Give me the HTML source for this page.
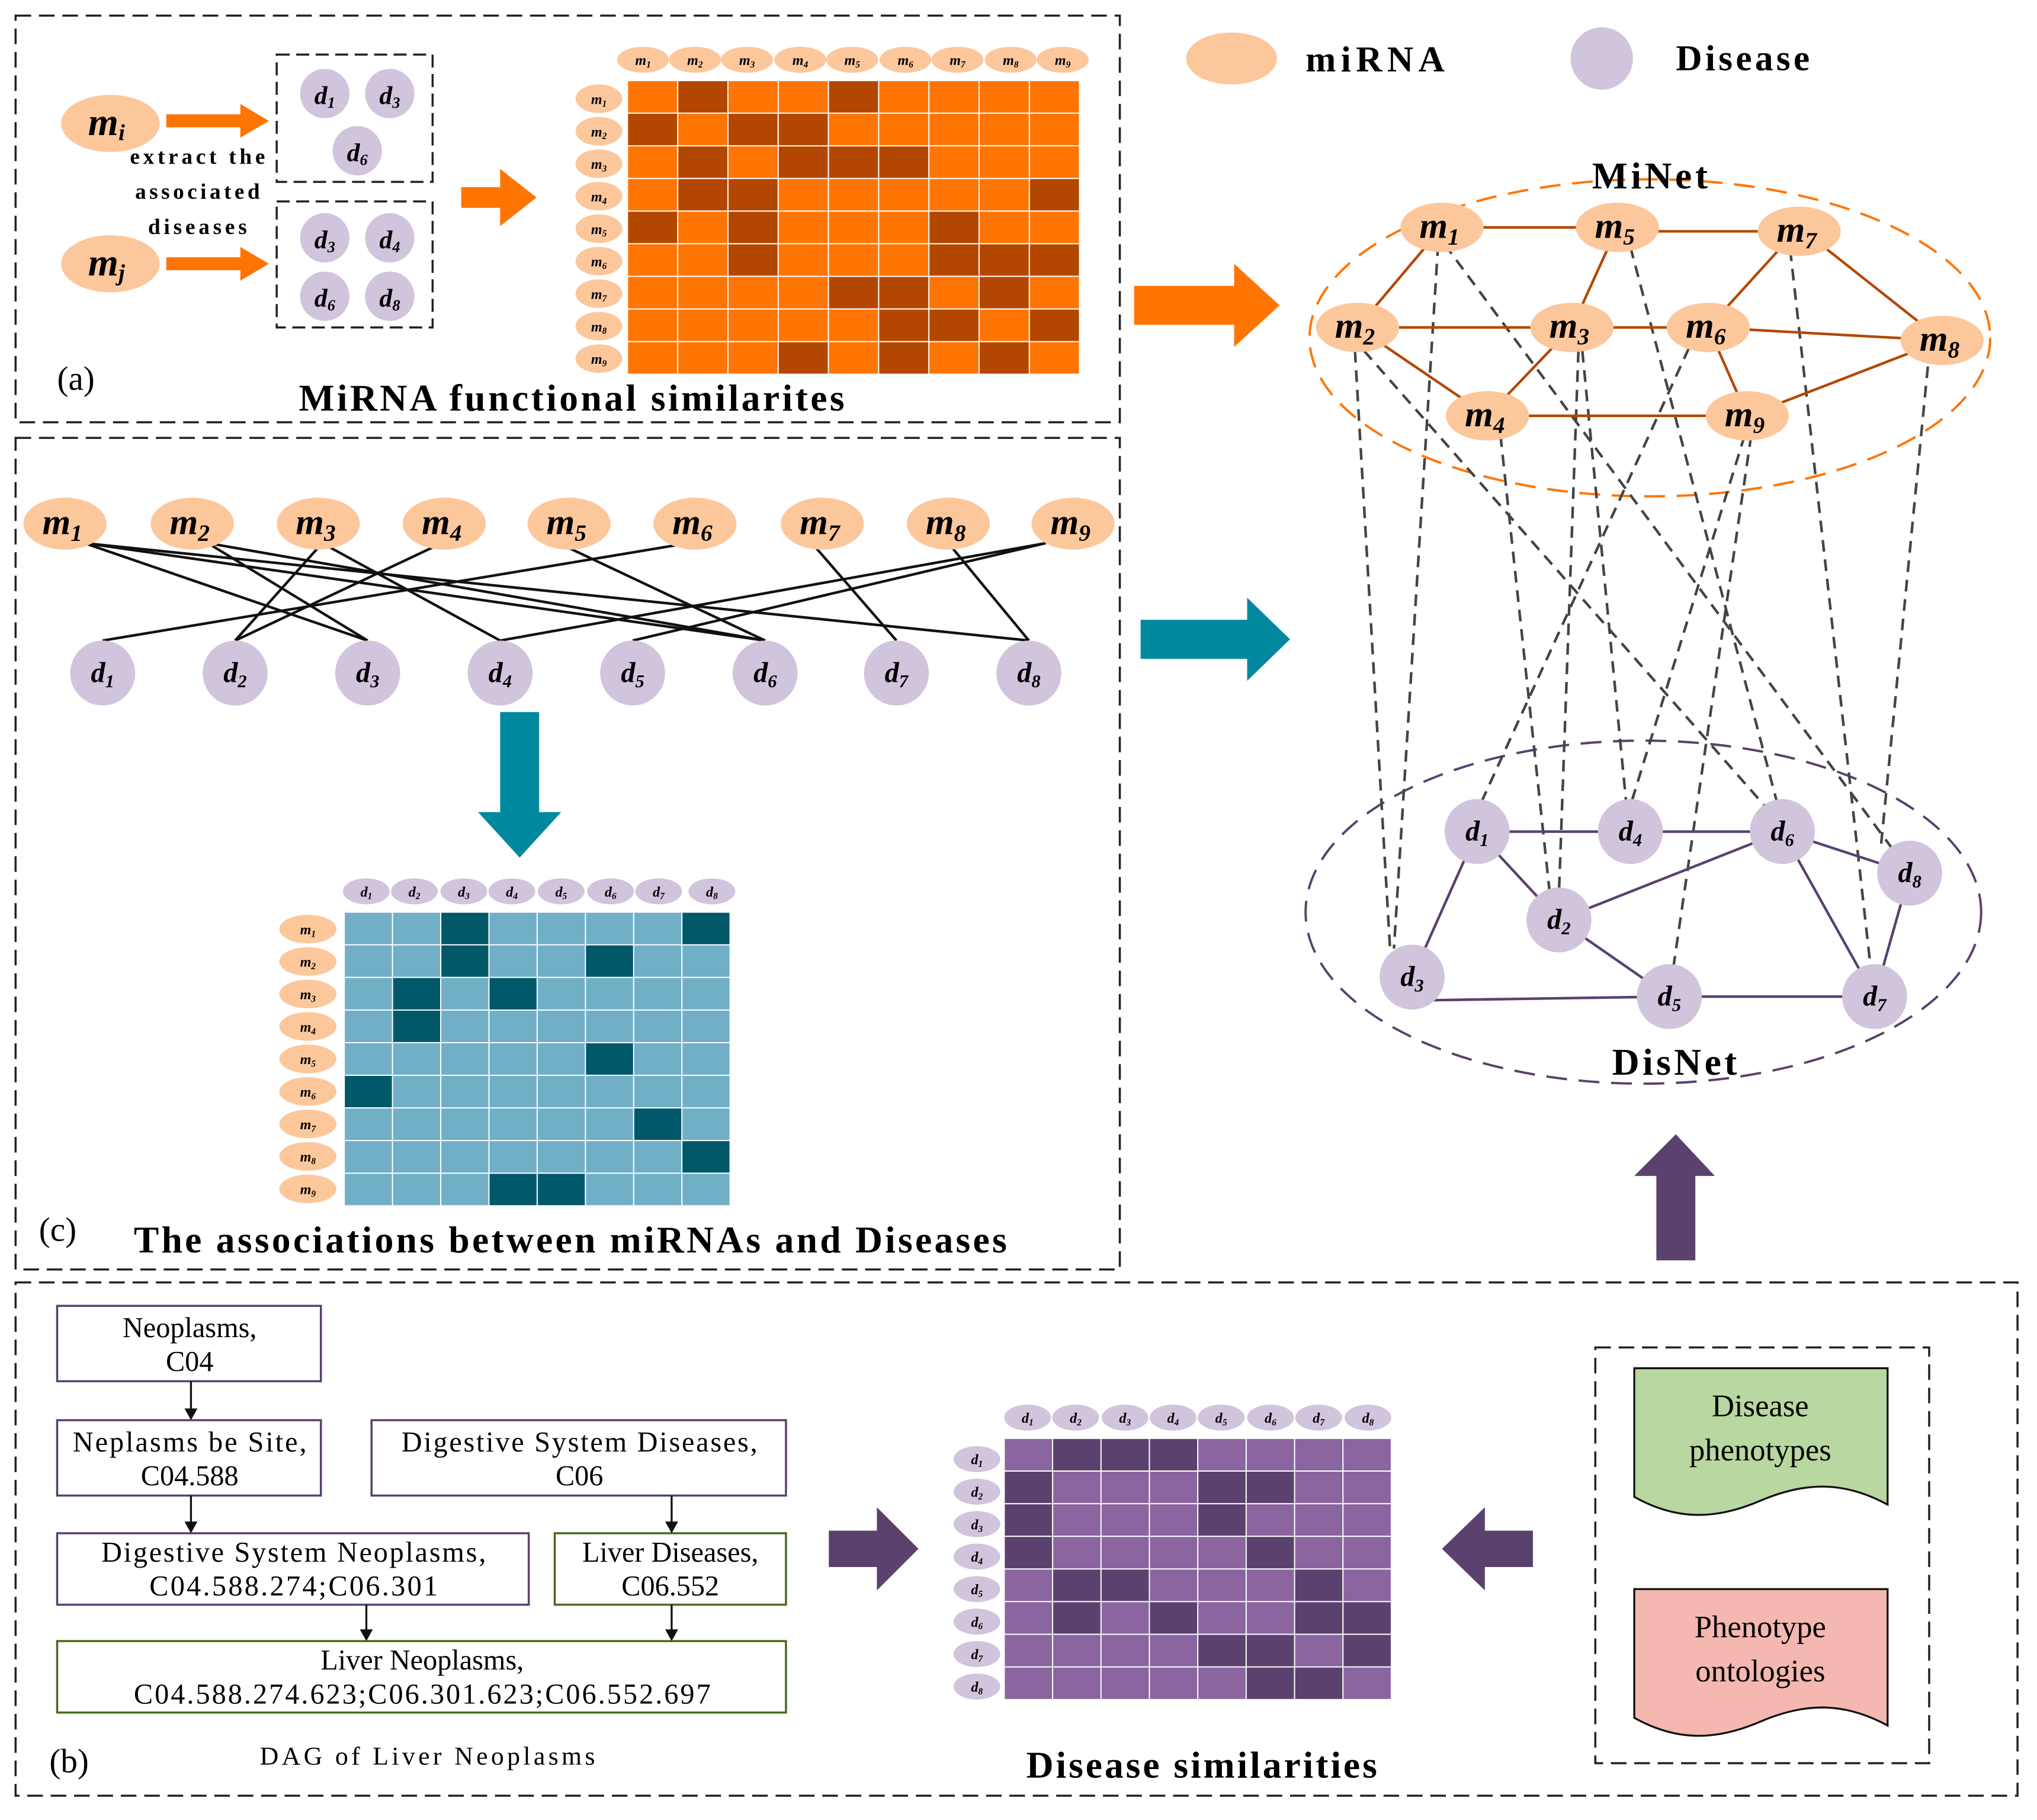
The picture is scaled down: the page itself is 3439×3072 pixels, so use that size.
<!DOCTYPE html>
<html><head><meta charset="utf-8"><style>
html,body{margin:0;padding:0;background:#fff}
svg{display:block}
text{font-family:"Liberation Serif",serif}
.l{font-weight:bold;font-style:italic;text-anchor:middle}
.t{text-anchor:middle}
</style></head><body>
<svg width="3439" height="3072" viewBox="0 0 1568 1400.7" preserveAspectRatio="none" xmlns="http://www.w3.org/2000/svg">
<rect width="1568" height="1401" fill="#fff"/>
<g fill="none" stroke="#222" stroke-width="1.6" stroke-dasharray="12,6">
<rect x="12" y="12" width="850" height="313"/>
<rect x="12" y="337" width="850" height="640"/>
<rect x="12" y="987" width="1541" height="395"/>
<rect x="1228" y="1037" width="257" height="320"/>
</g>

<!-- ===== Panel a ===== -->
<g fill="#FDC79C"><ellipse cx="85" cy="95" rx="38" ry="22"/><ellipse cx="85" cy="203" rx="38" ry="22"/></g>
<text class="l" x="82" y="104" font-size="30">m<tspan font-size="18" dy="4">i</tspan></text>
<text class="l" x="82" y="212" font-size="30">m<tspan font-size="18" dy="4">j</tspan></text>
<g fill="#FF7504">
<polygon points="128,88 185,88 185,80 207,93 185,106 185,98 128,98"/>
<polygon points="128,198 185,198 185,190 207,203 185,216 185,208 128,208"/>
<polygon points="355,144 385,144 385,130 413,152 385,174 385,160 355,160"/>
</g>
<g font-size="17" font-weight="bold" class="t"><text x="152" y="126" textLength="104" lengthAdjust="spacing">extract the</text><text x="152" y="153" textLength="96" lengthAdjust="spacing">associated</text><text x="152" y="180" textLength="76" lengthAdjust="spacing">diseases</text></g>
<g fill="none" stroke="#222" stroke-width="1.6" stroke-dasharray="10,5"><rect x="213" y="42" width="120" height="98"/><rect x="213" y="155" width="120" height="97"/></g>
<g fill="#D1C4DD"><circle cx="250" cy="72" r="19"/><circle cx="300" cy="72" r="19"/><circle cx="275" cy="116" r="19"/>
<circle cx="250" cy="183" r="19"/><circle cx="300" cy="183" r="19"/><circle cx="250" cy="228" r="19"/><circle cx="300" cy="228" r="19"/></g>
<g class="l" font-size="20"><text x="250" y="80">d<tspan font-size="12" dy="3">1</tspan></text><text x="300" y="80">d<tspan font-size="12" dy="3">3</tspan></text><text x="275" y="124">d<tspan font-size="12" dy="3">6</tspan></text>
<text x="250" y="191">d<tspan font-size="12" dy="3">3</tspan></text><text x="300" y="191">d<tspan font-size="12" dy="3">4</tspan></text><text x="250" y="236">d<tspan font-size="12" dy="3">6</tspan></text><text x="300" y="236">d<tspan font-size="12" dy="3">8</tspan></text></g>

<g transform="translate(483,62) scale(38.667,25.111)">
<rect width="9" height="9" fill="#FF7504"/>
<g fill="#B34700">
<rect x="1" y="0" width="1" height="1"/><rect x="4" y="0" width="1" height="1"/>
<rect x="0" y="1" width="1" height="1"/><rect x="2" y="1" width="2" height="1"/>
<rect x="1" y="2" width="1" height="1"/><rect x="3" y="2" width="3" height="1"/>
<rect x="1" y="3" width="2" height="1"/><rect x="8" y="3" width="1" height="1"/>
<rect x="0" y="4" width="1" height="1"/><rect x="2" y="4" width="1" height="1"/><rect x="6" y="4" width="1" height="1"/>
<rect x="2" y="5" width="1" height="1"/><rect x="6" y="5" width="3" height="1"/>
<rect x="4" y="6" width="2" height="1"/><rect x="7" y="6" width="1" height="1"/>
<rect x="5" y="7" width="2" height="1"/><rect x="8" y="7" width="1" height="1"/>
<rect x="3" y="8" width="1" height="1"/><rect x="5" y="8" width="1" height="1"/><rect x="7" y="8" width="1" height="1"/>
</g>
<path d="M0 0V9M1 0V9M2 0V9M3 0V9M4 0V9M5 0V9M6 0V9M7 0V9M8 0V9M9 0V9M0 0H9M0 1H9M0 2H9M0 3H9M0 4H9M0 5H9M0 6H9M0 7H9M0 8H9M0 9H9" stroke="#fff" stroke-width="2" vector-effect="non-scaling-stroke"/>
</g>
<g fill="#FDC79C">
<ellipse cx="495" cy="46" rx="20" ry="10"/><ellipse cx="535" cy="46" rx="20" ry="10"/><ellipse cx="575" cy="46" rx="20" ry="10"/><ellipse cx="616" cy="46" rx="20" ry="10"/><ellipse cx="656" cy="46" rx="20" ry="10"/><ellipse cx="697" cy="46" rx="20" ry="10"/><ellipse cx="737" cy="46" rx="20" ry="10"/><ellipse cx="778" cy="46" rx="20" ry="10"/><ellipse cx="818" cy="46" rx="20" ry="10"/>
<ellipse cx="461" cy="76" rx="18" ry="11"/><ellipse cx="461" cy="101" rx="18" ry="11"/><ellipse cx="461" cy="126" rx="18" ry="11"/><ellipse cx="461" cy="151" rx="18" ry="11"/><ellipse cx="461" cy="176" rx="18" ry="11"/><ellipse cx="461" cy="201" rx="18" ry="11"/><ellipse cx="461" cy="226" rx="18" ry="11"/><ellipse cx="461" cy="251" rx="18" ry="11"/><ellipse cx="461" cy="276" rx="18" ry="11"/>
</g>
<g class="l" font-size="11" font-weight="normal">
<text x="495" y="50">m<tspan font-size="7" dy="2">1</tspan></text><text x="535" y="50">m<tspan font-size="7" dy="2">2</tspan></text><text x="575" y="50">m<tspan font-size="7" dy="2">3</tspan></text><text x="616" y="50">m<tspan font-size="7" dy="2">4</tspan></text><text x="656" y="50">m<tspan font-size="7" dy="2">5</tspan></text><text x="697" y="50">m<tspan font-size="7" dy="2">6</tspan></text><text x="737" y="50">m<tspan font-size="7" dy="2">7</tspan></text><text x="778" y="50">m<tspan font-size="7" dy="2">8</tspan></text><text x="818" y="50">m<tspan font-size="7" dy="2">9</tspan></text>
<text x="461" y="80">m<tspan font-size="7" dy="2">1</tspan></text><text x="461" y="105">m<tspan font-size="7" dy="2">2</tspan></text><text x="461" y="130">m<tspan font-size="7" dy="2">3</tspan></text><text x="461" y="155">m<tspan font-size="7" dy="2">4</tspan></text><text x="461" y="180">m<tspan font-size="7" dy="2">5</tspan></text><text x="461" y="205">m<tspan font-size="7" dy="2">6</tspan></text><text x="461" y="230">m<tspan font-size="7" dy="2">7</tspan></text><text x="461" y="255">m<tspan font-size="7" dy="2">8</tspan></text><text x="461" y="280">m<tspan font-size="7" dy="2">9</tspan></text>
</g>
<text x="44" y="300" font-size="26">(a)</text>
<text class="t" x="440" y="316" font-size="29" font-weight="bold" textLength="420" lengthAdjust="spacing">MiRNA functional similarites</text>

<!-- ===== Panel c ===== -->
<g stroke="#111" stroke-width="2">
<line x1="65" y1="418" x2="283" y2="493"/><line x1="65" y1="418" x2="792" y2="493"/>
<line x1="160" y1="418" x2="283" y2="493"/><line x1="160" y1="418" x2="589" y2="493"/>
<line x1="248" y1="418" x2="181" y2="493"/><line x1="248" y1="418" x2="385" y2="493"/>
<line x1="340" y1="418" x2="181" y2="493"/>
<line x1="430" y1="418" x2="589" y2="493"/>
<line x1="530" y1="418" x2="79" y2="493"/>
<line x1="625" y1="418" x2="690" y2="493"/>
<line x1="730" y1="418" x2="792" y2="493"/>
<line x1="805" y1="418" x2="385" y2="493"/><line x1="805" y1="418" x2="487" y2="493"/>
<line x1="65" y1="418" x2="589" y2="493"/>
</g>
<g fill="#FDC79C">
<ellipse cx="50" cy="403" rx="32" ry="20"/><ellipse cx="148" cy="403" rx="32" ry="20"/><ellipse cx="245" cy="403" rx="32" ry="20"/><ellipse cx="342" cy="403" rx="32" ry="20"/><ellipse cx="438" cy="403" rx="32" ry="20"/><ellipse cx="535" cy="403" rx="32" ry="20"/><ellipse cx="633" cy="403" rx="32" ry="20"/><ellipse cx="730" cy="403" rx="32" ry="20"/><ellipse cx="826" cy="403" rx="32" ry="20"/>
</g>
<g class="l" font-size="28">
<text x="48" y="411">m<tspan font-size="18" dy="5">1</tspan></text><text x="146" y="411">m<tspan font-size="18" dy="5">2</tspan></text><text x="243" y="411">m<tspan font-size="18" dy="5">3</tspan></text><text x="340" y="411">m<tspan font-size="18" dy="5">4</tspan></text><text x="436" y="411">m<tspan font-size="18" dy="5">5</tspan></text><text x="533" y="411">m<tspan font-size="18" dy="5">6</tspan></text><text x="631" y="411">m<tspan font-size="18" dy="5">7</tspan></text><text x="728" y="411">m<tspan font-size="18" dy="5">8</tspan></text><text x="824" y="411">m<tspan font-size="18" dy="5">9</tspan></text>
</g>
<g fill="#D1C4DD">
<circle cx="79" cy="518" r="25"/><circle cx="181" cy="518" r="25"/><circle cx="283" cy="518" r="25"/><circle cx="385" cy="518" r="25"/><circle cx="487" cy="518" r="25"/><circle cx="589" cy="518" r="25"/><circle cx="690" cy="518" r="25"/><circle cx="792" cy="518" r="25"/>
</g>
<g class="l" font-size="22" font-weight="normal">
<text x="79" y="525">d<tspan font-size="14" dy="4">1</tspan></text><text x="181" y="525">d<tspan font-size="14" dy="4">2</tspan></text><text x="283" y="525">d<tspan font-size="14" dy="4">3</tspan></text><text x="385" y="525">d<tspan font-size="14" dy="4">4</tspan></text><text x="487" y="525">d<tspan font-size="14" dy="4">5</tspan></text><text x="589" y="525">d<tspan font-size="14" dy="4">6</tspan></text><text x="690" y="525">d<tspan font-size="14" dy="4">7</tspan></text><text x="792" y="525">d<tspan font-size="14" dy="4">8</tspan></text>
</g>
<polygon points="385,548 415,548 415,625 432,625 400,660 368,625 385,625" fill="#00899E"/>

<g transform="translate(265,702) scale(37.125,25.111)">
<rect width="8" height="9" fill="#71AFC7"/>
<g fill="#005869">
<rect x="2" y="0" width="1" height="1"/><rect x="7" y="0" width="1" height="1"/>
<rect x="2" y="1" width="1" height="1"/><rect x="5" y="1" width="1" height="1"/>
<rect x="1" y="2" width="1" height="1"/><rect x="3" y="2" width="1" height="1"/>
<rect x="1" y="3" width="1" height="1"/>
<rect x="5" y="4" width="1" height="1"/>
<rect x="0" y="5" width="1" height="1"/>
<rect x="6" y="6" width="1" height="1"/>
<rect x="7" y="7" width="1" height="1"/>
<rect x="3" y="8" width="2" height="1"/>
</g>
<path d="M0 0V9M1 0V9M2 0V9M3 0V9M4 0V9M5 0V9M6 0V9M7 0V9M8 0V9M0 0H8M0 1H8M0 2H8M0 3H8M0 4H8M0 5H8M0 6H8M0 7H8M0 8H8M0 9H8" stroke="#fff" stroke-width="2" vector-effect="non-scaling-stroke"/>
</g>
<g fill="#D1C4DD">
<ellipse cx="282" cy="686" rx="18" ry="10"/><ellipse cx="319" cy="686" rx="18" ry="10"/><ellipse cx="357" cy="686" rx="18" ry="10"/><ellipse cx="394" cy="686" rx="18" ry="10"/><ellipse cx="432" cy="686" rx="18" ry="10"/><ellipse cx="470" cy="686" rx="18" ry="10"/><ellipse cx="507" cy="686" rx="18" ry="10"/><ellipse cx="548" cy="686" rx="18" ry="10"/>
</g>
<g fill="#FDC79C">
<ellipse cx="237" cy="715" rx="22" ry="11"/><ellipse cx="237" cy="740" rx="22" ry="11"/><ellipse cx="237" cy="765" rx="22" ry="11"/><ellipse cx="237" cy="790" rx="22" ry="11"/><ellipse cx="237" cy="815" rx="22" ry="11"/><ellipse cx="237" cy="840" rx="22" ry="11"/><ellipse cx="237" cy="865" rx="22" ry="11"/><ellipse cx="237" cy="890" rx="22" ry="11"/><ellipse cx="237" cy="915" rx="22" ry="11"/>
</g>
<g class="l" font-size="11" font-weight="normal">
<text x="282" y="690">d<tspan font-size="7" dy="2">1</tspan></text><text x="319" y="690">d<tspan font-size="7" dy="2">2</tspan></text><text x="357" y="690">d<tspan font-size="7" dy="2">3</tspan></text><text x="394" y="690">d<tspan font-size="7" dy="2">4</tspan></text><text x="432" y="690">d<tspan font-size="7" dy="2">5</tspan></text><text x="470" y="690">d<tspan font-size="7" dy="2">6</tspan></text><text x="507" y="690">d<tspan font-size="7" dy="2">7</tspan></text><text x="548" y="690">d<tspan font-size="7" dy="2">8</tspan></text>
<text x="237" y="719">m<tspan font-size="7" dy="2">1</tspan></text><text x="237" y="744">m<tspan font-size="7" dy="2">2</tspan></text><text x="237" y="769">m<tspan font-size="7" dy="2">3</tspan></text><text x="237" y="794">m<tspan font-size="7" dy="2">4</tspan></text><text x="237" y="819">m<tspan font-size="7" dy="2">5</tspan></text><text x="237" y="844">m<tspan font-size="7" dy="2">6</tspan></text><text x="237" y="869">m<tspan font-size="7" dy="2">7</tspan></text><text x="237" y="894">m<tspan font-size="7" dy="2">8</tspan></text><text x="237" y="919">m<tspan font-size="7" dy="2">9</tspan></text>
</g>
<text x="30" y="955" font-size="26">(c)</text>
<text class="t" x="439" y="964" font-size="29" font-weight="bold" textLength="672" lengthAdjust="spacing">The associations between miRNAs and Diseases</text>

<polygon points="873,220 950,220 950,203 985,235 950,267 950,250 873,250" fill="#FF7504"/>
<polygon points="878,477 960,477 960,460 993,492 960,524 960,507 878,507" fill="#00899E"/>
<polygon points="1275,970 1305,970 1305,905 1320,905 1290,873 1258,905 1275,905" fill="#5A416E"/>

<ellipse cx="948" cy="45" rx="35" ry="20" fill="#FDC79C"/>
<text x="1005" y="55" font-size="28" font-weight="bold" textLength="107" lengthAdjust="spacing">miRNA</text>
<circle cx="1233" cy="45" r="24" fill="#D1C4DD"/>
<text x="1290" y="54" font-size="28" font-weight="bold" textLength="103" lengthAdjust="spacing">Disease</text>

<ellipse cx="1270" cy="260" rx="262" ry="122" fill="none" stroke="#FF7504" stroke-width="1.8" stroke-dasharray="16,9"/>
<text class="t" x="1270" y="145" font-size="29" font-weight="bold" textLength="89" lengthAdjust="spacing">MiNet</text>
<ellipse cx="1265" cy="702" rx="260" ry="132" fill="none" stroke="#5A416E" stroke-width="1.8" stroke-dasharray="16,9"/>
<text class="t" x="1289" y="827" font-size="29" font-weight="bold" textLength="96" lengthAdjust="spacing">DisNet</text>

<g stroke="#444" stroke-width="2" stroke-dasharray="9,6">
<line x1="1107" y1="188" x2="1073" y2="730"/>
<line x1="1112" y1="188" x2="1458" y2="655"/>
<line x1="1043" y1="270" x2="1070" y2="730"/>
<line x1="1050" y1="270" x2="1360" y2="622"/>
<line x1="1215" y1="270" x2="1200" y2="688"/>
<line x1="1218" y1="270" x2="1252" y2="620"/>
<line x1="1155" y1="335" x2="1193" y2="688"/>
<line x1="1255" y1="190" x2="1368" y2="618"/>
<line x1="1300" y1="268" x2="1140" y2="618"/>
<line x1="1378" y1="192" x2="1440" y2="745"/>
<line x1="1484" y1="282" x2="1448" y2="650"/>
<line x1="1343" y1="335" x2="1255" y2="620"/>
<line x1="1348" y1="335" x2="1288" y2="745"/>
</g>
<g stroke="#B34700" stroke-width="2">
<line x1="1110" y1="175" x2="1245" y2="175"/><line x1="1245" y1="178" x2="1385" y2="178"/>
<line x1="1110" y1="175" x2="1045" y2="252"/><line x1="1245" y1="175" x2="1210" y2="252"/>
<line x1="1385" y1="175" x2="1315" y2="252"/><line x1="1385" y1="175" x2="1495" y2="262"/>
<line x1="1045" y1="252" x2="1210" y2="252"/><line x1="1210" y1="252" x2="1315" y2="252"/>
<line x1="1315" y1="252" x2="1495" y2="262"/><line x1="1045" y1="252" x2="1145" y2="320"/>
<line x1="1210" y1="252" x2="1145" y2="320"/><line x1="1145" y1="320" x2="1345" y2="320"/>
<line x1="1315" y1="252" x2="1345" y2="320"/><line x1="1345" y1="320" x2="1495" y2="262"/>
</g>
<g fill="#FDC79C">
<ellipse cx="1110" cy="175" rx="32" ry="19"/><ellipse cx="1245" cy="175" rx="32" ry="19"/><ellipse cx="1385" cy="178" rx="32" ry="19"/>
<ellipse cx="1045" cy="252" rx="32" ry="19"/><ellipse cx="1210" cy="252" rx="32" ry="19"/><ellipse cx="1315" cy="252" rx="32" ry="19"/><ellipse cx="1495" cy="262" rx="32" ry="19"/>
<ellipse cx="1145" cy="320" rx="32" ry="19"/><ellipse cx="1345" cy="320" rx="32" ry="19"/>
</g>
<g class="l" font-size="28">
<text x="1108" y="183">m<tspan font-size="18" dy="5">1</tspan></text><text x="1243" y="183">m<tspan font-size="18" dy="5">5</tspan></text><text x="1383" y="186">m<tspan font-size="18" dy="5">7</tspan></text>
<text x="1043" y="260">m<tspan font-size="18" dy="5">2</tspan></text><text x="1208" y="260">m<tspan font-size="18" dy="5">3</tspan></text><text x="1313" y="260">m<tspan font-size="18" dy="5">6</tspan></text><text x="1493" y="270">m<tspan font-size="18" dy="5">8</tspan></text>
<text x="1143" y="328">m<tspan font-size="18" dy="5">4</tspan></text><text x="1343" y="328">m<tspan font-size="18" dy="5">9</tspan></text>
</g>
<g stroke="#5A416E" stroke-width="2">
<line x1="1137" y1="640" x2="1255" y2="640"/><line x1="1255" y1="640" x2="1372" y2="640"/>
<line x1="1372" y1="640" x2="1470" y2="672"/><line x1="1137" y1="640" x2="1200" y2="708"/>
<line x1="1137" y1="640" x2="1087" y2="752"/><line x1="1200" y1="708" x2="1372" y2="640"/>
<line x1="1200" y1="708" x2="1285" y2="767"/><line x1="1087" y1="770" x2="1285" y2="767"/>
<line x1="1285" y1="767" x2="1443" y2="767"/><line x1="1372" y1="640" x2="1443" y2="767"/>
<line x1="1470" y1="672" x2="1443" y2="767"/>
</g>
<g fill="#D1C4DD">
<circle cx="1137" cy="640" r="25"/><circle cx="1255" cy="640" r="25"/><circle cx="1372" cy="640" r="25"/><circle cx="1470" cy="672" r="25"/>
<circle cx="1200" cy="708" r="25"/><circle cx="1087" cy="752" r="25"/><circle cx="1285" cy="767" r="25"/><circle cx="1443" cy="767" r="25"/>
</g>
<g class="l" font-size="22" font-weight="normal">
<text x="1137" y="647">d<tspan font-size="14" dy="4">1</tspan></text><text x="1255" y="647">d<tspan font-size="14" dy="4">4</tspan></text><text x="1372" y="647">d<tspan font-size="14" dy="4">6</tspan></text><text x="1470" y="679">d<tspan font-size="14" dy="4">8</tspan></text>
<text x="1200" y="715">d<tspan font-size="14" dy="4">2</tspan></text><text x="1087" y="759">d<tspan font-size="14" dy="4">3</tspan></text><text x="1285" y="774">d<tspan font-size="14" dy="4">5</tspan></text><text x="1443" y="774">d<tspan font-size="14" dy="4">7</tspan></text>
</g>

<!-- ===== Panel b ===== -->
<g fill="#fff" stroke-width="1.6">
<rect x="44" y="1005" width="203" height="58" stroke="#5A416E"/>
<rect x="44" y="1093" width="203" height="58" stroke="#5A416E"/>
<rect x="286" y="1093" width="319" height="58" stroke="#5A416E"/>
<rect x="44" y="1180" width="363" height="55" stroke="#5A416E"/>
<rect x="427" y="1180" width="178" height="55" stroke="#4A6B1F"/>
<rect x="44" y="1263" width="561" height="55" stroke="#4A6B1F"/>
</g>
<g class="t" font-size="22">
<text x="146" y="1029">Neoplasms,</text><text x="146" y="1055">C04</text>
<text x="146" y="1117" textLength="180" lengthAdjust="spacing">Neplasms be Site,</text><text x="146" y="1143">C04.588</text>
<text x="446" y="1117" textLength="274" lengthAdjust="spacing">Digestive System Diseases,</text><text x="446" y="1143">C06</text>
<text x="226" y="1202" textLength="296" lengthAdjust="spacing">Digestive System Neoplasms,</text><text x="226" y="1228" textLength="222" lengthAdjust="spacing">C04.588.274;C06.301</text>
<text x="516" y="1202">Liver Diseases,</text><text x="516" y="1228">C06.552</text>
<text x="325" y="1285">Liver Neoplasms,</text><text x="325" y="1311" textLength="444" lengthAdjust="spacing">C04.588.274.623;C06.301.623;C06.552.697</text>
</g>
<g stroke="#111" stroke-width="1.5"><line x1="147" y1="1063" x2="147" y2="1085"/><line x1="147" y1="1151" x2="147" y2="1172"/><line x1="517" y1="1151" x2="517" y2="1172"/><line x1="282" y1="1235" x2="282" y2="1255"/><line x1="517" y1="1235" x2="517" y2="1255"/></g>
<g fill="#111"><polygon points="142,1084 152,1084 147,1093"/><polygon points="142,1171 152,1171 147,1180"/><polygon points="512,1171 522,1171 517,1180"/><polygon points="277,1254 287,1254 282,1263"/><polygon points="512,1254 522,1254 517,1263"/></g>
<text x="38" y="1364" font-size="26">(b)</text>
<text class="t" x="329" y="1358" font-size="20" textLength="258" lengthAdjust="spacing">DAG of Liver Neoplasms</text>
<polygon points="638,1178 675,1178 675,1160 707,1192 675,1224 675,1206 638,1206" fill="#5A416E"/>
<polygon points="1180,1178 1143,1178 1143,1160 1110,1192 1143,1224 1143,1206 1180,1206" fill="#5A416E"/>

<g transform="translate(773,1107) scale(37.25,25.125)">
<rect width="8" height="8" fill="#8A65A0"/>
<g fill="#5A416E">
<rect x="1" y="0" width="3" height="1"/>
<rect x="0" y="1" width="1" height="1"/><rect x="4" y="1" width="2" height="1"/>
<rect x="0" y="2" width="1" height="1"/><rect x="4" y="2" width="1" height="1"/>
<rect x="0" y="3" width="1" height="1"/><rect x="5" y="3" width="1" height="1"/>
<rect x="1" y="4" width="2" height="1"/><rect x="6" y="4" width="1" height="1"/>
<rect x="1" y="5" width="1" height="1"/><rect x="3" y="5" width="1" height="1"/><rect x="6" y="5" width="2" height="1"/>
<rect x="4" y="6" width="2" height="1"/><rect x="7" y="6" width="1" height="1"/>
<rect x="5" y="7" width="2" height="1"/>
</g>
<path d="M0 0V8M1 0V8M2 0V8M3 0V8M4 0V8M5 0V8M6 0V8M7 0V8M8 0V8M0 0H8M0 1H8M0 2H8M0 3H8M0 4H8M0 5H8M0 6H8M0 7H8M0 8H8" stroke="#fff" stroke-width="2" vector-effect="non-scaling-stroke"/>
</g>
<g fill="#D1C4DD">
<ellipse cx="791" cy="1091" rx="18" ry="10"/><ellipse cx="828" cy="1091" rx="18" ry="10"/><ellipse cx="866" cy="1091" rx="18" ry="10"/><ellipse cx="903" cy="1091" rx="18" ry="10"/><ellipse cx="940" cy="1091" rx="18" ry="10"/><ellipse cx="978" cy="1091" rx="18" ry="10"/><ellipse cx="1015" cy="1091" rx="18" ry="10"/><ellipse cx="1053" cy="1091" rx="18" ry="10"/>
<ellipse cx="752" cy="1123" rx="18" ry="10"/><ellipse cx="752" cy="1148" rx="18" ry="10"/><ellipse cx="752" cy="1173" rx="18" ry="10"/><ellipse cx="752" cy="1198" rx="18" ry="10"/><ellipse cx="752" cy="1223" rx="18" ry="10"/><ellipse cx="752" cy="1248" rx="18" ry="10"/><ellipse cx="752" cy="1273" rx="18" ry="10"/><ellipse cx="752" cy="1298" rx="18" ry="10"/>
</g>
<g class="l" font-size="11" font-weight="normal">
<text x="791" y="1095">d<tspan font-size="7" dy="2">1</tspan></text><text x="828" y="1095">d<tspan font-size="7" dy="2">2</tspan></text><text x="866" y="1095">d<tspan font-size="7" dy="2">3</tspan></text><text x="903" y="1095">d<tspan font-size="7" dy="2">4</tspan></text><text x="940" y="1095">d<tspan font-size="7" dy="2">5</tspan></text><text x="978" y="1095">d<tspan font-size="7" dy="2">6</tspan></text><text x="1015" y="1095">d<tspan font-size="7" dy="2">7</tspan></text><text x="1053" y="1095">d<tspan font-size="7" dy="2">8</tspan></text>
<text x="752" y="1127">d<tspan font-size="7" dy="2">1</tspan></text><text x="752" y="1152">d<tspan font-size="7" dy="2">2</tspan></text><text x="752" y="1177">d<tspan font-size="7" dy="2">3</tspan></text><text x="752" y="1202">d<tspan font-size="7" dy="2">4</tspan></text><text x="752" y="1227">d<tspan font-size="7" dy="2">5</tspan></text><text x="752" y="1252">d<tspan font-size="7" dy="2">6</tspan></text><text x="752" y="1277">d<tspan font-size="7" dy="2">7</tspan></text><text x="752" y="1302">d<tspan font-size="7" dy="2">8</tspan></text>
</g>
<text class="t" x="925" y="1368" font-size="29" font-weight="bold" textLength="270" lengthAdjust="spacing">Disease similarities</text>

<path d="M1258 1053H1453V1158C1420 1140 1390 1140 1355 1155C1320 1170 1290 1170 1258 1152Z" fill="#B9D7A0" stroke="#111" stroke-width="1.5"/>
<path d="M1258 1223H1453V1328C1420 1310 1390 1310 1355 1325C1320 1340 1290 1340 1258 1322Z" fill="#F4B8B0" stroke="#111" stroke-width="1.5"/>
<g class="t" font-size="24"><text x="1355" y="1090">Disease</text><text x="1355" y="1124">phenotypes</text><text x="1355" y="1260">Phenotype</text><text x="1355" y="1294">ontologies</text></g>
</svg>
</body></html>
